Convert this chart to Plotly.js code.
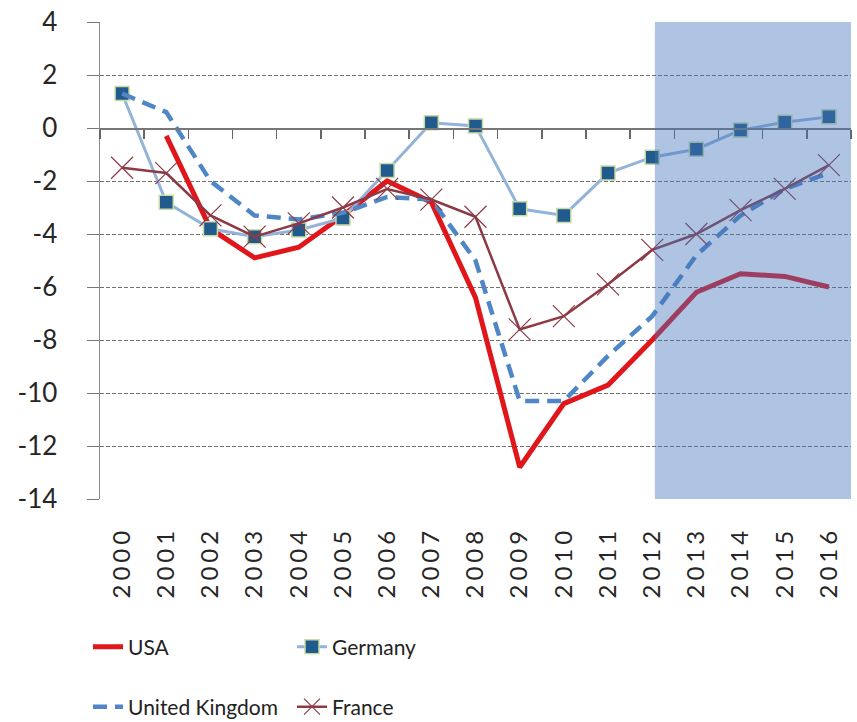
<!DOCTYPE html>
<html>
<head>
<meta charset="utf-8">
<script src="https://cdn.plot.ly/plotly-3.0.1.min.js"></script>
<style>
  html, body { margin: 0; padding: 0; background: #fff; }
  #chart { width: 857px; height: 722px; }
  #chart .xtick text { letter-spacing: 4px; }
</style>
</head>
<body>
<div id="chart"></div>
<script>
// ---- data ----
const years = ["2000","2001","2002","2003","2004","2005","2006","2007","2008",
               "2009","2010","2011","2012","2013","2014","2015","2016"];
const usa     = [null, -0.3, -3.8, -4.9, -4.5, -3.3, -2.0, -2.8, -6.4, -12.8, -10.4, -9.7, -8.0, -6.2, -5.5, -5.6, -6.0];
const germany = [1.3, -2.8, -3.8, -4.1, -3.85, -3.4, -1.6, 0.2, 0.08, -3.05, -3.3, -1.7, -1.1, -0.8, -0.08, 0.22, 0.42];
const uk      = [1.3, 0.6, -2.0, -3.3, -3.45, -3.2, -2.6, -2.7, -5.0, -10.3, -10.3, -8.6, -7.1, -4.8, -3.3, -2.3, -1.7];
const france  = [-1.5, -1.7, -3.3, -4.1, -3.6, -3.0, -2.3, -2.7, -3.35, -7.6, -7.1, -5.9, -4.6, -4.0, -3.1, -2.3, -1.4];
const yTicks  = [4, 2, 0, -2, -4, -6, -8, -10, -12, -14];
const yTickText = yTicks.map(v => String(v));   // plain hyphen minus, as in the original

const idx = years.map((_, i) => i);
const boundaries = [];
for (let i = 0; i <= years.length; i++) boundaries.push(i - 0.5);

const FONT = "Lato, 'Open Sans', 'DejaVu Sans', sans-serif";

const traces = [
  {
    name: "USA", x: idx, y: usa, mode: "lines", type: "scatter",
    line: { color: "#e0161b", width: 5 }, legend: "legend"
  },
  {
    name: "Germany", x: idx, y: germany, mode: "lines+markers", type: "scatter",
    line: { color: "#93b3d8", width: 3 },
    marker: { symbol: "square", size: 14, color: "#215a8c", line: { color: "#c9dca6", width: 1.5 } },
    legend: "legend"
  },
  {
    name: "United Kingdom", x: idx, y: uk, mode: "lines", type: "scatter",
    line: { color: "#4f86c6", width: 4.5, dash: "14px,8px" }, legend: "legend2"
  },
  {
    name: "France", x: idx, y: france, mode: "lines+markers", type: "scatter",
    line: { color: "#8c3a45", width: 2.5 },
    marker: { symbol: "x-thin", size: 22, color: "#8c3a45", line: { color: "#8c3a45", width: 1.2 } },
    legend: "legend2"
  },
  {
    // carries the horizontal axis line at zero with its tick marks
    x: [], y: [], xaxis: "x2", yaxis: "y", type: "scatter", showlegend: false, hoverinfo: "skip"
  }
];

const layout = {
  width: 857, height: 722,
  margin: { l: 100, r: 6, t: 22, b: 223, autoexpand: false },
  paper_bgcolor: "#fff", plot_bgcolor: "#fff",
  font: { family: FONT, size: 22, color: "#222" },
  xaxis: {
    range: [-0.5, 16.5], tickmode: "array", tickvals: idx, ticktext: years,
    tickangle: -90, tickfont: { family: FONT, size: 24, color: "#262626" },
    showgrid: false, zeroline: false, showline: false, ticks: "",
    ticklabelstandoff: 22, automargin: false, fixedrange: true
  },
  xaxis2: {
    overlaying: "x", anchor: "free", position: 14 / 18, matches: "x",
    range: [-0.5, 16.5], tickmode: "array", tickvals: boundaries,
    showticklabels: false, ticks: "outside", ticklen: 9, tickwidth: 1.5, tickcolor: "#666",
    showline: true, linecolor: "#777", linewidth: 1.5, showgrid: false, zeroline: false,
    automargin: false
  },
  yaxis: {
    range: [-14, 4], tickmode: "array", tickvals: yTicks, ticktext: yTickText,
    tickfont: { family: FONT, size: 26, color: "#262626" },
    showgrid: true, gridcolor: "#707070", gridwidth: 1, griddash: "4px,2px",
    zeroline: false, showline: true, linecolor: "#888", linewidth: 1.5,
    ticks: "outside", ticklen: 12, tickcolor: "#777", ticklabelstandoff: 24,
    automargin: false, fixedrange: true
  },
  shapes: [{
    type: "rect", xref: "x", yref: "y", x0: 12.06, x1: 16.5, y0: -14, y1: 4,
    fillcolor: "rgba(70,116,188,0.43)", line: { width: 0 }, layer: "above"
  }],
  legend: {
    orientation: "h", xref: "container", yref: "container",
    x: 88 / 857, xanchor: "left", y: (722 - 647) / 722, yanchor: "middle",
    entrywidth: 159, entrywidthmode: "pixels",
    font: { family: FONT, size: 21, color: "#222" }, bgcolor: "rgba(0,0,0,0)"
  },
  legend2: {
    orientation: "h", xref: "container", yref: "container",
    x: 88 / 857, xanchor: "left", y: (722 - 707) / 722, yanchor: "middle",
    entrywidth: 159, entrywidthmode: "pixels",
    font: { family: FONT, size: 21, color: "#222" }, bgcolor: "rgba(0,0,0,0)"
  },
  showlegend: true
};

Plotly.newPlot("chart", traces, layout, { staticPlot: true, displayModeBar: false });
</script>
</body>
</html>
